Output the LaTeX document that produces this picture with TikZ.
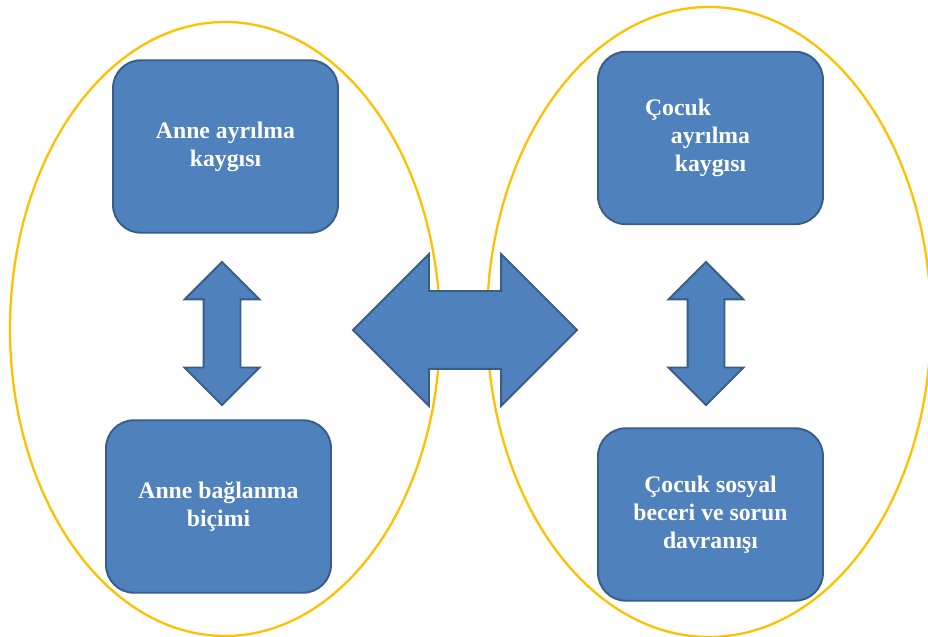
\documentclass[tikz,border=0pt]{standalone}
\usepackage{fontspec}
\setmainfont{Liberation Serif}
\usetikzlibrary{shapes}

\definecolor{boxblue}{HTML}{4F81BD}
\definecolor{boxline}{HTML}{385D8A}
\definecolor{ringgold}{HTML}{FFC000}

\begin{document}
\begin{tikzpicture}[
  box/.style={draw=boxline, line width=1.1pt, fill=boxblue, rounded corners=0.56cm,
    minimum width=4.5cm, minimum height=3.45cm, align=center, text=white,
    font=\bfseries\fontsize{13.5}{16}\selectfont},
  ring/.style={draw=ringgold, line width=1.3pt, ellipse, inner sep=0pt},
  blockarrow/.style={draw=boxline, line width=1.1pt, fill=boxblue, double arrow,
    double arrow tip angle=90}]

\useasboundingbox (0,0) rectangle (18.56,12.74);

% the two groups
\node (Lring) at (4.5, 6.16) [ring, minimum width=8.6cm, minimum height=12.28cm] {};
\node (Rring) at (14.18, 6.3) [ring, minimum width=8.88cm, minimum height=12.6cm] {};

% arrows
\node (Larrow) at (4.44, 6.07) [blockarrow, rotate=90, inner sep=0.35cm,
  double arrow head extend=0.38cm, minimum height=2.86cm] {};
\node (Rarrow) at (14.12, 6.07) [blockarrow, rotate=90, inner sep=0.35cm,
  double arrow head extend=0.38cm, minimum height=2.86cm] {};
\node (Marrow) at (9.3, 6.14) [blockarrow, inner sep=0.76cm,
  double arrow head extend=0.74cm, minimum height=4.48cm] {};

% boxes
\node (A1) at (4.51, 9.81) [box] {Anne ayrılma\\kaygısı};
\node (A2) at (4.37, 2.61) [box] {Anne bağlanma\\biçimi};
\node (C1) at (14.21, 9.98) [box] {Çocuk\hspace*{1.3cm}\\ayrılma\\kaygısı};
\node (C2) at (14.21, 2.45) [box] {Çocuk sosyal\\beceri ve sorun\\davranışı};

\end{tikzpicture}
\end{document}
